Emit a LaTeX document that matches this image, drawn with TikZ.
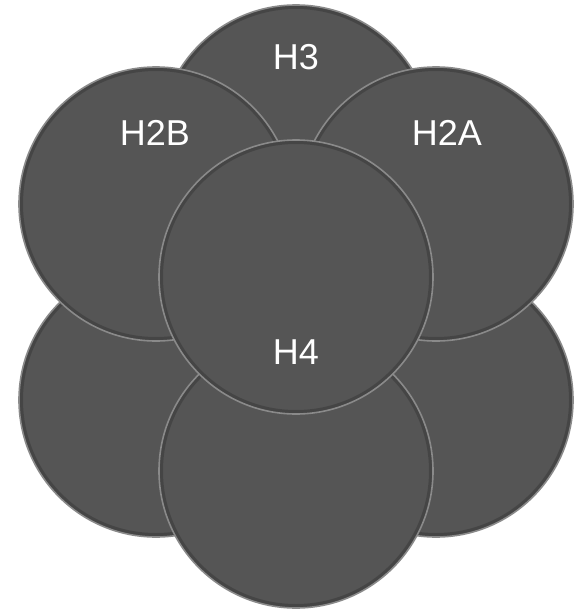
\documentclass[tikz,border=0pt]{standalone}
\usepackage{fontspec}
\setmainfont{Liberation Sans}
\definecolor{discfill}{HTML}{555555}
\definecolor{discline}{HTML}{8A8A8A}
\tikzset{
  disc/.style={circle, minimum size=274pt, inner sep=0pt, fill=discfill, draw=discline, line width=1.6pt,
    path picture={\draw[black, opacity=0.18, line width=8pt] (path picture bounding box.center) circle (137pt);}},
  lbl/.style={text=white, font=\fontsize{36}{40}\selectfont, inner sep=0pt}
}
\begin{document}
\begin{tikzpicture}[x=1pt, y=-1pt]
\useasboundingbox (0,0) rectangle (576,610);
\node[disc] (top) at (296,142) {};
\node[disc] (bl) at (156,400) {};
\node[disc] (br) at (436,400) {};
\node[disc] (tl) at (156,204) {};
\node[disc] (tr) at (436,204) {};
\node[disc] (bot) at (296,471) {};
\node[disc] (mid) at (296,277) {};
\node[lbl] (t3) at (296,57) {H3};
\node[lbl] (t2b) at (155,133) {H2B};
\node[lbl] (t2a) at (447,133) {H2A};
\node[lbl] (t4) at (296,352) {H4};
\end{tikzpicture}
\end{document}
